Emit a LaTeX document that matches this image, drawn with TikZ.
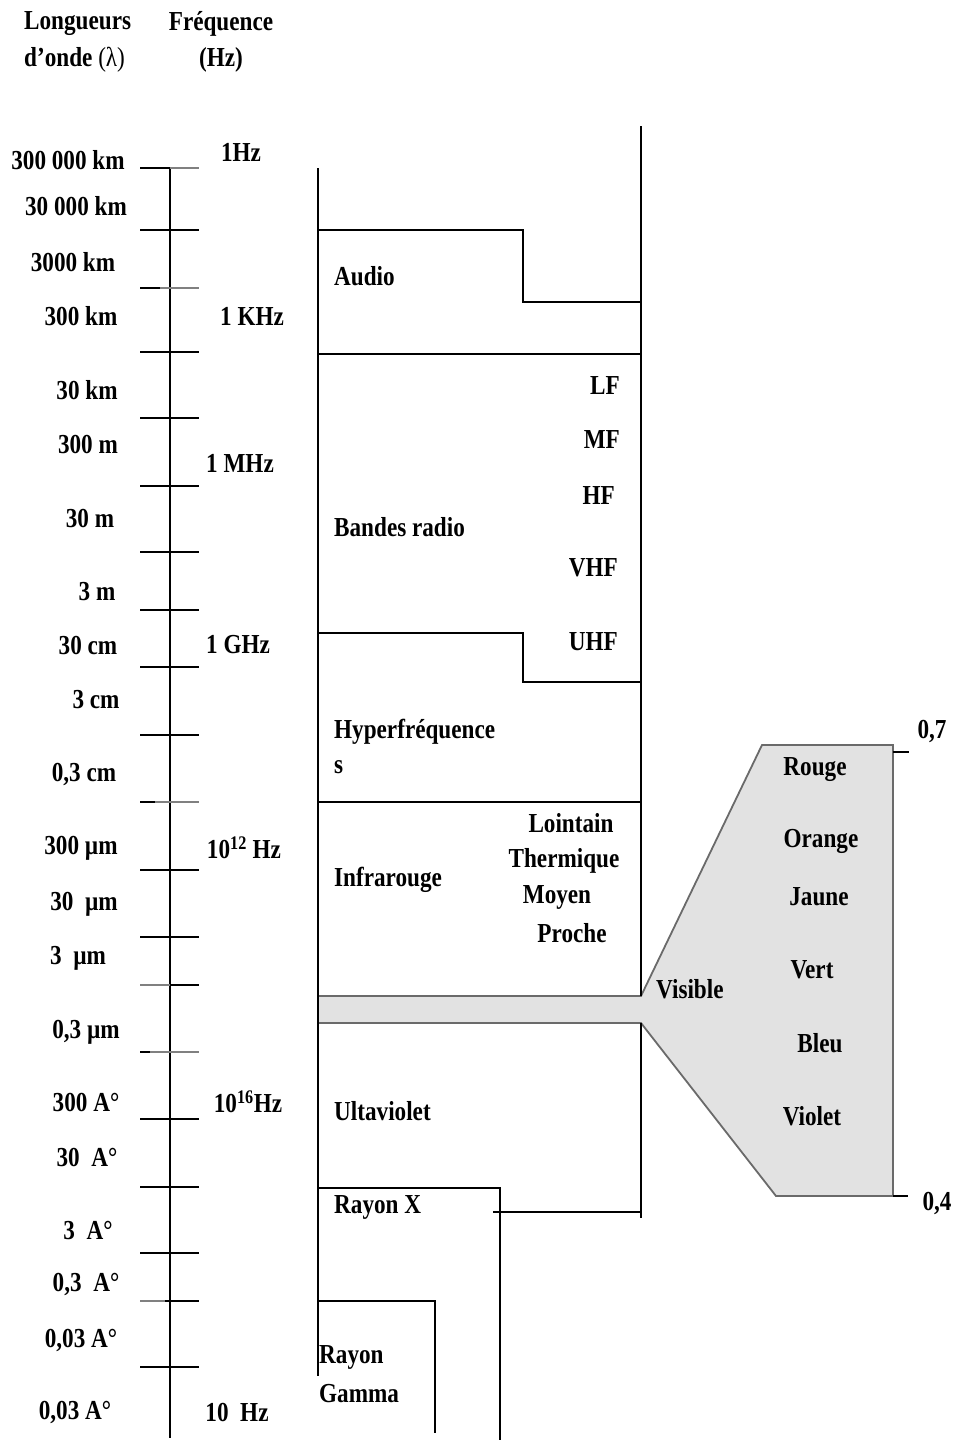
\documentclass[tikz,border=0pt]{standalone}
\usepackage{fontspec}
\usepackage{graphicx}
\setmainfont{Liberation Serif}
\definecolor{visfill}{HTML}{E2E2E2}
\definecolor{visedge}{HTML}{6A6A6A}
\newcommand{\tx}[1]{\scalebox{1.03}[1.22]{#1}}
\begin{document}
\begin{tikzpicture}[x=1pt,y=-1pt,
  lbl/.style={font=\fontsize{22.5}{26}\selectfont\bfseries, inner sep=0pt},
  ln/.style={line width=1.5pt, black},
  tk/.style={line width=1.5pt},
  edge/.style={line width=1.8pt, visedge}]
\useasboundingbox (0,0) rectangle (957,1441);
% ---- header
\node[lbl, anchor=west] (h1) at (24,24) {\tx{Longueurs}};
\node[lbl, anchor=west] (h2) at (24,60) {\tx{d’onde \textmd{(λ)}}};
\node[lbl] (h3) at (221,24) {\tx{Fréquence}};
\node[lbl] (h4) at (221,60) {\tx{(Hz)}};
% ---- axis
\draw[ln] (170,168) -- (170,1438);
\foreach \yy in {230,352,418,486,552,610,667,735,870,937,1119,1187,1253}
  \draw[tk] (140,\yy) -- (199,\yy);
\draw[tk] (140,168) -- (170,168); \draw[tk,gray] (170,168) -- (199,168);
\draw[tk] (140,288) -- (160,288); \draw[tk,gray] (160,288) -- (199,288);
\draw[tk] (140,802) -- (155,802); \draw[tk,gray] (155,802) -- (199,802);
\draw[tk,gray] (140,985) -- (170,985); \draw[tk] (170,985) -- (199,985);
\draw[tk] (140,1052) -- (150,1052); \draw[tk,gray] (150,1052) -- (199,1052);
\draw[tk,gray] (140,1301) -- (165,1301); \draw[tk] (165,1301) -- (199,1301);
\draw[line width=2.6pt] (140,1367) -- (199,1367);
% ---- wavelength labels
\node[lbl] (w1) at (68,160) {\tx{300 000 km}};
\node[lbl] (w2) at (76,206) {\tx{30 000 km}};
\node[lbl] (w3) at (73,262) {\tx{3000 km}};
\node[lbl] (w4) at (81,316) {\tx{300 km}};
\node[lbl] (w5) at (87,390) {\tx{30 km}};
\node[lbl] (w6) at (88,444) {\tx{300 m}};
\node[lbl] (w7) at (90,518) {\tx{30 m}};
\node[lbl] (w8) at (97,592) {\tx{3 m}};
\node[lbl] (w9) at (88,645) {\tx{30 cm}};
\node[lbl] (w10) at (96,700) {\tx{3 cm}};
\node[lbl] (w11) at (84,774) {\tx{0,3 cm}};
\node[lbl] (w12) at (81,848) {\tx{300 µm}};
\node[lbl] (w13) at (84,904) {\tx{30~ µm}};
\node[lbl] (w14) at (78,958) {\tx{3~ µm}};
\node[lbl] (w15) at (86,1032) {\tx{0,3 µm}};
\node[lbl] (w16) at (86,1102) {\tx{300 A°}};
\node[lbl] (w17) at (87,1157) {\tx{30~ A°}};
\node[lbl] (w18) at (88,1230) {\tx{3~ A°}};
\node[lbl] (w19) at (86,1284) {\tx{0,3~ A°}};
\node[lbl] (w20) at (81,1340) {\tx{0,03 A°}};
\node[lbl] (w21) at (75,1412) {\tx{0,03 A°}};
% ---- frequency labels
\node[lbl] (f1) at (241,152) {\tx{1Hz}};
\node[lbl] (f2) at (252,316) {\tx{1 KHz}};
\node[lbl] (f3) at (240,463) {\tx{1 MHz}};
\node[lbl] (f4) at (238,645) {\tx{1 GHz}};
\node[lbl] (f5) at (244,848) {\tx{10\textsuperscript{12} Hz}};
\node[lbl] (f6) at (248,1102) {\tx{10\textsuperscript{16}Hz}};
\node[lbl] (f7) at (237,1412) {\tx{10~ Hz}};
% ---- spectrum boxes
\fill[visfill] (318,996) -- (641,996) -- (762,745) -- (893,745) -- (893,1196) -- (776,1196) -- (641,1023) -- (318,1023) -- cycle;
\draw[edge] (318,996) -- (641,996) -- (762,745) -- (893,745) -- (893,1196) -- (776,1196) -- (641,1023) -- (318,1023);
\draw[ln] (893,752) -- (909,752);
\draw[ln] (893,1196) -- (908,1196);
\draw[ln] (318,168) -- (318,1376);
\draw[ln] (641,126) -- (641,996);
\draw[ln] (641,1023) -- (641,1218);
\draw[ln] (318,230) -- (523,230) -- (523,302) -- (641,302);
\draw[ln] (318,354) -- (641,354);
\draw[ln] (318,633) -- (523,633) -- (523,682) -- (641,682);
\draw[ln] (318,802) -- (641,802);
\draw[ln] (318,1188) -- (500,1188) -- (500,1440);
\draw[ln] (493,1212) -- (641,1212);
\draw[ln] (318,1301) -- (435,1301) -- (435,1433);
% ---- box labels
\node[lbl, anchor=west] (audio) at (334,276) {\tx{Audio}};
\node[lbl, anchor=west] (radio) at (334,527) {\tx{Bandes radio}};
\node[lbl, anchor=east] (lf) at (620,386) {\tx{LF}};
\node[lbl, anchor=east] (mf) at (620,440) {\tx{MF}};
\node[lbl, anchor=east] (hf) at (615,496) {\tx{HF}};
\node[lbl, anchor=east] (vhf) at (618,568) {\tx{VHF}};
\node[lbl, anchor=east] (uhf) at (618,642) {\tx{UHF}};
\node[lbl, anchor=west] (hyp) at (334,732) {\tx{Hyperfréquence}};
\node[lbl, anchor=west] (hyps) at (334,767) {\tx{s}};
\node[lbl, anchor=west] (ir) at (334,880) {\tx{Infrarouge}};
\node[lbl] (loin) at (571,823) {\tx{Lointain}};
\node[lbl] (therm) at (564,861) {\tx{Thermique}};
\node[lbl] (moy) at (557,897) {\tx{Moyen}};
\node[lbl] (proc) at (572,933) {\tx{Proche}};
\node[lbl, anchor=west] (vis) at (656,989) {\tx{Visible}};
\node[lbl, anchor=west] (uv) at (334,1111) {\tx{Ultaviolet}};
\node[lbl, anchor=west] (rx) at (334,1207) {\tx{Rayon X}};
\node[lbl, anchor=west] (rg1) at (319,1357) {\tx{Rayon}};
\node[lbl, anchor=west] (rg2) at (319,1394) {\tx{Gamma}};
% ---- visible colours
\node[lbl] (rouge) at (815,770) {\tx{Rouge}};
\node[lbl] (orange) at (821,841) {\tx{Orange}};
\node[lbl] (jaune) at (819,897) {\tx{Jaune}};
\node[lbl] (vert) at (812,970) {\tx{Vert}};
\node[lbl] (bleu) at (820,1043) {\tx{Bleu}};
\node[lbl] (violet) at (812,1116) {\tx{Violet}};
\node[lbl] (v7) at (932,731) {\tx{0,7}};
\node[lbl] (v4) at (937,1203) {\tx{0,4}};
\end{tikzpicture}
\end{document}
